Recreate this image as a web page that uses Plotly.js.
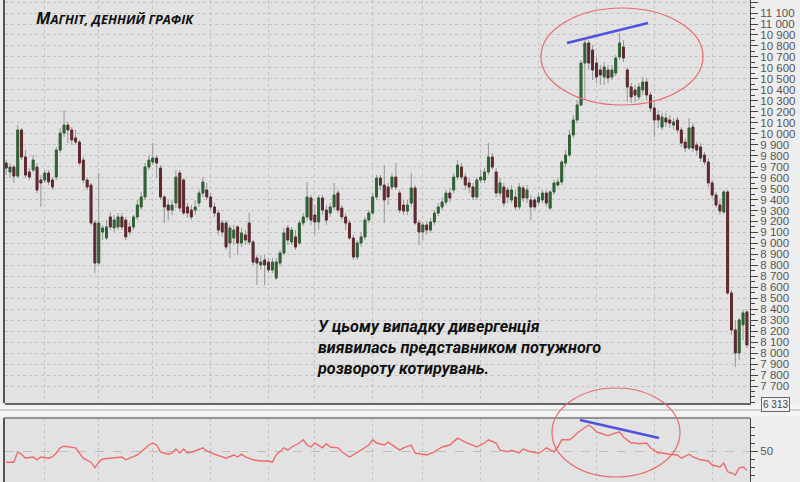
<!DOCTYPE html>
<html><head><meta charset="utf-8">
<script src="https://cdn.plot.ly/plotly-3.0.1.min.js"></script>
<style>html,body{margin:0;padding:0;background:#eeeeee;}#c{width:800px;height:482px;}</style>
</head><body><div id="c"></div>
<script>
// Daily candles (open, high, low, close)
const opens = [9733,9651,9696,9614,10034,9788,9651,9669,9696,9578,9578,9642,9578,9605,9851,10006,10079,10034,9961,9924,9760,9578,9532,9186,8821,9104,9049,9241,9141,9150,9241,9213,9150,9150,9241,9332,9423,9696,9742,9778,9687,9423,9350,9304,9368,9642,9578,9332,9304,9304,9368,9459,9487,9423,9332,9277,9186,9186,9004,9049,9150,9004,9077,9186,9013,8867,8803,8849,8830,8758,8685,8821,8912,9141,9013,9059,9004,9186,9241,9414,9259,9195,9414,9304,9277,9332,9459,9322,9241,9186,9049,8876,9004,9059,9213,9277,9423,9596,9532,9514,9514,9605,9459,9350,9295,9368,9505,9186,9104,9168,9122,9195,9277,9332,9377,9459,9487,9605,9696,9605,9551,9514,9423,9578,9578,9651,9788,9651,9459,9514,9487,9396,9423,9332,9505,9414,9396,9396,9377,9396,9459,9322,9469,9532,9560,9733,9806,9988,10125,10262,10644,10827,10763,10644,10581,10517,10581,10517,10553,10699,10790,10581,10426,10398,10335,10398,10471,10353,10234,10170,10061,10143,10125,10079,10125,10034,9924,9870,10061,9897,9879,9806,9742,9551,9441,9350,9286,9469,8548,8211,8001,8257,8375];
const highs = [9760,9733,9714,10079,10052,9851,9687,9806,9733,9623,9669,9669,9605,9879,10052,10216,10107,10061,10034,9943,9788,9605,9551,9213,9642,9168,9213,9286,9259,9277,9277,9241,9195,9259,9396,9469,9733,9806,9915,9806,9714,9441,9396,9396,9669,9669,9596,9368,9350,9396,9487,9605,9551,9459,9368,9304,9213,9213,9168,9168,9168,9141,9122,9277,9031,8894,8894,8894,8867,8867,8867,8940,9141,9168,9150,9122,9213,9277,9560,9441,9350,9441,9441,9350,9368,9551,9487,9350,9277,9213,9077,9031,9104,9241,9304,9459,9623,9623,9714,9551,9642,9733,9487,9396,9396,9642,9532,9213,9195,9195,9232,9304,9368,9423,9487,9505,9642,9760,9733,9642,9596,9551,9605,9669,9687,9915,9824,9687,9596,9551,9514,9532,9487,9551,9532,9532,9441,9423,9459,9487,9487,9487,9578,9596,9760,9851,10034,10170,10307,10672,10854,10854,10808,10699,10626,10653,10626,10626,10717,10918,10854,10608,10462,10444,10462,10517,10508,10380,10280,10216,10189,10189,10170,10143,10152,10061,9961,10143,10097,9924,9915,9833,9778,9578,9469,9396,9487,9487,8575,8302,8320,8393,8393];
const lows = [9623,9596,9551,9596,9760,9596,9578,9651,9459,9332,9551,9532,9487,9578,9824,9970,9915,9897,9897,9714,9551,9487,9168,8730,8803,9031,9031,9122,9104,9122,9122,9031,9077,9122,9213,9304,9396,9669,9714,9596,9396,9186,9213,9259,9322,9286,9259,9232,9213,9259,9332,9423,9396,9304,9241,9077,9059,8940,8867,8986,8894,8967,8986,8986,8803,8621,8758,8621,8730,8730,8667,8794,8894,8986,8986,8940,8986,9159,9213,9168,9077,9122,9259,9168,9241,9304,9277,9213,9122,9031,8849,8849,8967,9031,9186,9259,9396,9487,9186,9350,9487,9487,9277,9259,9259,9332,9168,8986,9031,9077,9095,9168,9250,9304,9350,9377,9459,9578,9578,9487,9459,9396,9396,9551,9551,9623,9669,9423,9423,9332,9368,9368,9304,9304,9377,9368,9213,9304,9350,9368,9332,9304,9441,9514,9532,9696,9788,9961,10097,10250,10307,10581,10490,10462,10444,10444,10462,10490,10526,10672,10653,10289,10280,10289,10307,10353,10307,10198,9970,10052,10034,10061,10052,10034,10006,9879,9833,9851,9833,9806,9742,9714,9514,9414,9322,9259,9268,8530,8165,7873,7937,8119,8046];
const closes = [9687,9696,9614,10034,9788,9623,9605,9760,9487,9551,9642,9560,9514,9851,10006,10079,10034,9943,9924,9733,9578,9514,9186,8821,9186,9141,9150,9150,9213,9241,9150,9059,9104,9241,9350,9423,9696,9760,9778,9733,9423,9332,9304,9350,9605,9322,9277,9277,9241,9332,9459,9560,9423,9332,9277,9122,9104,8967,9141,9122,9004,9095,9031,9013,8830,8821,8830,8803,8758,8830,8830,8912,9095,9031,9122,8967,9186,9241,9423,9213,9195,9414,9304,9213,9332,9441,9304,9241,9186,9049,8876,9004,9059,9213,9277,9423,9596,9532,9396,9423,9605,9514,9304,9295,9350,9505,9186,9104,9168,9122,9195,9277,9332,9377,9459,9414,9605,9714,9605,9532,9514,9423,9578,9605,9651,9788,9696,9459,9551,9368,9423,9487,9332,9514,9414,9487,9332,9332,9423,9459,9368,9469,9551,9560,9742,9806,9988,10125,10262,10644,10827,10644,10581,10517,10535,10608,10508,10581,10690,10827,10690,10426,10335,10353,10426,10471,10353,10234,10125,10125,10152,10107,10097,10107,10034,9915,9870,10052,9870,9851,9778,9742,9551,9441,9350,9295,9469,8548,8211,8001,8302,8366,8074];

// Price axis tick values
const priceTicks = [7700,7800,7900,8000,8100,8200,8300,8400,8500,8600,8700,8800,8900,9000,9100,9200,9300,9400,9500,9600,9700,9800,9900,10000,10100,10200,10300,10400,10500,10600,10700,10800,10900,11000,11100,11200];

// Vertical (month) grid positions, candle index
const monthTicks = [10,24,38,53,68,80,95,108,123,138,153,168,183];

// Oscillator (lower panel): candle index and value
const oscIdx = [0,2,3,4,5,7,8,9,11,12,13,14,15,17,18,19,20,22,23,24,25,27,29,30,31,33,34,35,37,38,39,40,42,43,44,45,46,47,48,49,51,52,54,55,57,59,60,61,62,64,66,68,69,70,71,72,73,74,76,77,78,79,80,81,82,83,84,86,87,89,90,92,94,95,96,98,99,101,102,103,105,106,109,111,113,115,117,119,121,122,124,125,127,128,130,131,133,134,136,138,139,140,142,143,144,146,147,148,149,151,152,153,154,156,157,158,159,160,162,163,164,166,167,169,170,172,174,175,177,178,180,182,183,185,186,187,188,189,190,191,192];
const oscVal = [36,36,49,46,41,42.5,39,42.5,41,42.5,47.5,54,56,55,54,47.5,41,36,29,36,40,41,42.5,42.5,39,42.5,45,49,57.5,60,57.5,49,46,47.5,52.5,47.5,52.5,47.5,49,50,54,50,46,44,41,45,42.5,46,42.5,39,37.5,37.5,36,45,49,54,51,55,60,64,57.5,55,60,57.5,54,59,55,54,49,42.5,45,51,57.5,64,60,57.5,61,55,51,54,57.5,47.5,45,49,55,57.5,66,61,57.5,55,60,64,60,51,49,51,47.5,52.5,49,47.5,50,54,49,55,64,64,67.5,72.5,76,82.5,79,74,72.5,69,71,72.5,74,67.5,60,60,59,60,54,47.5,47.5,46,45,41,46,42.5,39,37.5,32.5,30,35,24,22.5,20,29,30,26];

const N = opens.length;
const idx = Array.from({length: N}, (_, i) => i);
const bodyHi = opens.map((o, i) => Math.max(o, closes[i]));
const bodyLo = opens.map((o, i) => Math.min(o, closes[i]));

const wicks = {
  type: 'candlestick', x: idx, open: opens, high: highs, low: lows, close: closes,
  xaxis: 'x', yaxis: 'y', hoverinfo: 'skip', showlegend: false,
  increasing: {line: {color: '#959595', width: 1}, fillcolor: '#959595'},
  decreasing: {line: {color: '#959595', width: 1}, fillcolor: '#959595'}
};
const bodies = {
  type: 'candlestick', x: idx, open: opens, high: bodyHi, low: bodyLo, close: closes,
  xaxis: 'x', yaxis: 'y', hoverinfo: 'skip', showlegend: false,
  increasing: {line: {color: '#2f6335', width: 1}, fillcolor: '#2f6335'},
  decreasing: {line: {color: '#5e2a2e', width: 1}, fillcolor: '#5e2a2e'}
};
const osc = {
  type: 'scatter', mode: 'lines', x: oscIdx, y: oscVal, xaxis: 'x2', yaxis: 'y2',
  line: {color: '#ee6b6b', width: 1.4}, hoverinfo: 'skip', showlegend: false
};

function px(x) { return (x - 5) / 745; }
function py(y) { return (482 - y) / 482; }

const shapes = [
  {type: 'rect', xref: 'paper', yref: 'paper', x0: -0.01, x1: 1.07, y0: py(416), y1: py(404), fillcolor: '#f4f4f4', line: {width: 0}, layer: 'below'},
  {type: 'line', xref: 'paper', yref: 'paper', x0: -0.01, x1: 1.07, y0: py(410), y1: py(410), line: {color: '#cfcfcf', width: 2}},
  {type: 'line', xref: 'paper', yref: 'paper', x0: px(4), x1: px(4), y0: py(403), y1: 1, line: {color: '#555', width: 2}},
  {type: 'line', xref: 'paper', yref: 'paper', x0: px(4), x1: px(4), y0: 0, y1: py(418), line: {color: '#555', width: 2}},
  {type: 'line', xref: 'paper', yref: 'paper', x0: px(4), x1: 1, y0: py(418), y1: py(418), line: {color: '#777', width: 1.5}},
  {type: 'circle', xref: 'paper', yref: 'paper', x0: px(541), x1: px(703), y0: py(105), y1: py(8), line: {color: '#e86a6a', width: 1.2}},
  {type: 'circle', xref: 'paper', yref: 'paper', x0: px(552), x1: px(680), y0: py(477), y1: py(388), line: {color: '#e86a6a', width: 1.2}},
  {type: 'line', xref: 'paper', yref: 'paper', x0: px(567), x1: px(648), y0: py(43), y1: py(23), line: {color: '#4f52dd', width: 2.5}},
  {type: 'line', xref: 'paper', yref: 'paper', x0: px(580), x1: px(659), y0: py(420), y1: py(438), line: {color: '#4f52dd', width: 2.5}}
];

const annotations = [
  {xref: 'paper', yref: 'paper', x: px(34), y: py(18), xanchor: 'left', yanchor: 'middle', showarrow: false,
   text: '<b><i>М<span style="font-size:12.8px">АГНІТ, ДЕННИЙ ГРАФІК</span></i></b>',
   font: {family: 'Open Sans', size: 16.5, color: '#111'}},
  {xref: 'paper', yref: 'paper', x: px(315), y: py(347), xanchor: 'left', yanchor: 'middle', align: 'left', showarrow: false,
   text: '<b><i>У цьому випадку дивергенція<br>виявилась представником потужного<br>розвороту котирувань.</i></b>',
   font: {family: 'Roboto', size: 16.2, color: '#111'}},
  {xref: 'paper', yref: 'paper', x: px(775), y: py(404), xanchor: 'center', yanchor: 'middle', showarrow: false,
   text: '6 313', font: {family: 'Liberation Sans', size: 10, color: '#444'},
   bordercolor: '#666', borderwidth: 1, borderpad: 1, bgcolor: '#f2f2f2'}
];

const gridCol = '#c2c2c2';
const layout = {
  width: 800, height: 482,
  margin: {l: 5, r: 50, t: 0, b: 0, pad: 0},
  paper_bgcolor: '#eeeeee', plot_bgcolor: '#e2e2e2',
  separators: '. ',
  showlegend: false,
  xaxis: {domain: [0, 1], anchor: 'y', range: [-0.3, 192.8], tickmode: 'array', tickvals: monthTicks,
          showticklabels: false, ticks: '', showgrid: true, gridcolor: gridCol, griddash: 'dot', gridwidth: 1,
          zeroline: false, showline: true, linecolor: '#666', linewidth: 2, rangeslider: {visible: false}, fixedrange: true},
  yaxis: {domain: [py(403), 1], anchor: 'x', side: 'right', range: [7545, 11219], tickmode: 'array', tickvals: priceTicks,
          tickformat: ',d', ticks: 'outside', ticklen: 7, tickcolor: '#444', tickwidth: 1, ticklabelstandoff: 0,
          minor: {dtick: 50, ticklen: 4, tickcolor: '#444', showgrid: false, ticks: 'outside'},
          showline: true, linecolor: '#444', linewidth: 1, showgrid: true, gridcolor: gridCol, griddash: 'dot',
          zeroline: false, tickfont: {family: 'Liberation Sans', size: 11.5, color: '#555'}, fixedrange: true},
  xaxis2: {domain: [0, 1], anchor: 'y2', matches: 'x', tickmode: 'array', tickvals: monthTicks,
           showticklabels: false, ticks: '', showgrid: true, gridcolor: gridCol, griddash: 'dot', zeroline: false, showline: false},
  yaxis2: {domain: [0, py(418)], anchor: 'x2', side: 'right', range: [11.25, 91.25], tickmode: 'array', tickvals: [50],
           ticks: 'outside', ticklen: 7, tickcolor: '#444', ticklabelstandoff: 0,
           minor: {tickvals: [20,30,40,60,70,80], ticklen: 4, tickcolor: '#444', ticks: 'outside', showgrid: false},
           showline: true, linecolor: '#444', linewidth: 1, showgrid: true, gridcolor: '#bdbdbd', griddash: 'dash',
           zeroline: false, tickfont: {family: 'Liberation Sans', size: 11.5, color: '#555'}},
  shapes: shapes,
  annotations: annotations
};

Plotly.newPlot('c', [wicks, bodies, osc], layout, {staticPlot: true, displayModeBar: false});
</script>
</body></html>
